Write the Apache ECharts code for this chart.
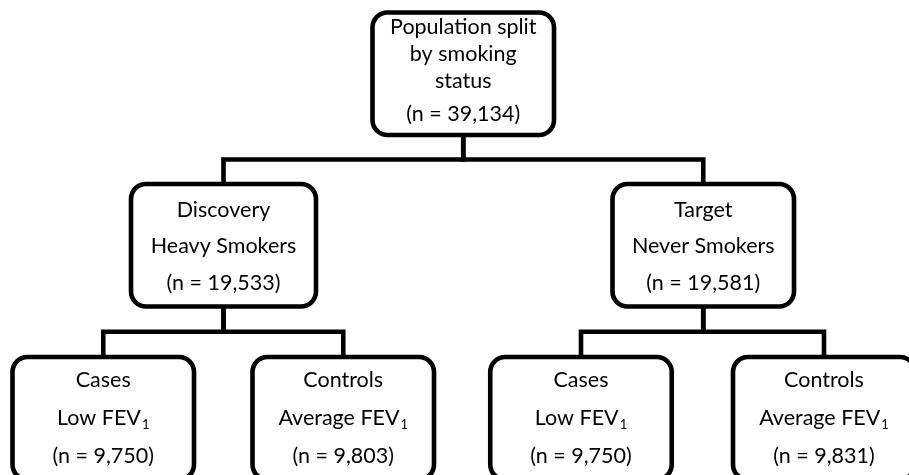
<!DOCTYPE html>
<html>
<head>
<meta charset="utf-8">
<script src="https://cdn.jsdelivr.net/npm/echarts@6/dist/echarts.min.js"></script>
<style>
html,body{margin:0;padding:0;background:#fff;}
#chart{width:909px;height:475px;}
</style>
</head>
<body>
<div id="chart"></div>
<script>
// ---- data ----
const nodeLines = [
  ['Population split', 'by smoking', 'status'],
  ['Discovery', 'Heavy Smokers'],
  ['Target', 'Never Smokers'],
  ['Cases', 'Low FEV{sub|1}'],
  ['Controls', 'Average FEV{sub|1}'],
  ['Cases', 'Low FEV{sub|1}'],
  ['Controls', 'Average FEV{sub|1}']
];
const nodeCounts = [39134, 19533, 19581, 9750, 9803, 9750, 9831];
const nodeParents = [-1, 0, 0, 1, 1, 2, 2];
const nodeLevels = [0, 1, 1, 2, 2, 2, 2];

// ---- layout (diagram units on hidden value axes) ----
const nodeCenterX = [463.25, 223.5, 703.25, 103.25, 343.25, 581, 824];
const nodeWidth = [181.5, 185, 181.5, 181.5, 181.5, 181.5, 182];
const levelTop = [12.5, 184, 357];
const boxHeight = 122.5;
const levelLineOffsets = [[15, 42, 69, 102], [26, 62.5, 99], [23.5, 61, 99]];

const FONT = 'Lato, "Noto Sans", sans-serif';
const FS = 21.5;
const LW = 4.6;

function fmtN(n) { return '(n = ' + n.toLocaleString('en-US') + ')'; }

const chart = echarts.init(document.getElementById('chart'), null, {renderer: 'canvas'});

const nodeData = nodeLines.map((_, i) => [i]);
const edgeData = nodeParents.map((p, i) => [i]).filter(d => nodeParents[d[0]] >= 0);

chart.setOption({
  animation: false,
  backgroundColor: '#ffffff',
  grid: {left: 0, right: 0, top: 0, bottom: 0},
  xAxis: {type: 'value', min: 0, max: 909, show: false},
  yAxis: {type: 'value', min: 0, max: 475, inverse: true, show: false},
  series: [
    {
      type: 'custom',
      coordinateSystem: 'cartesian2d',
      clip: false,
      z: 1,
      data: edgeData,
      renderItem: function (params, api) {
        const c = api.value(0);
        const p = nodeParents[c];
        const pb = levelTop[nodeLevels[p]] + boxHeight;
        const ct = levelTop[nodeLevels[c]];
        const midY = (pb + ct) / 2;
        const a = api.coord([nodeCenterX[p], pb]);
        const b = api.coord([nodeCenterX[p], midY]);
        const d = api.coord([nodeCenterX[c], midY]);
        const e = api.coord([nodeCenterX[c], ct]);
        return {
          type: 'polyline',
          shape: {points: [a, b, d, e]},
          style: {stroke: '#000', lineWidth: LW, fill: null, lineJoin: 'miter', lineCap: 'square'}
        };
      }
    },
    {
      type: 'custom',
      coordinateSystem: 'cartesian2d',
      clip: false,
      z: 2,
      data: nodeData,
      renderItem: function (params, api) {
        const i = api.value(0);
        const lvl = nodeLevels[i];
        const cx = nodeCenterX[i];
        const top = levelTop[lvl];
        const tl = api.coord([cx - nodeWidth[i] / 2, top]);
        const br = api.coord([cx + nodeWidth[i] / 2, top + boxHeight]);
        const children = [{
          type: 'rect',
          shape: {x: tl[0], y: tl[1], width: br[0] - tl[0], height: br[1] - tl[1], r: 15},
          style: {fill: '#fff', stroke: '#000', lineWidth: LW}
        }];
        const lines = nodeLines[i].concat([fmtN(nodeCounts[i])]);
        const offs = levelLineOffsets[lvl];
        lines.forEach((t, k) => {
          const pt = api.coord([cx, top + offs[k]]);
          children.push({
            type: 'text',
            x: pt[0], y: pt[1],
            style: {
              text: t,
              fill: '#000',
              fontFamily: FONT,
              fontSize: FS,
              lineHeight: 26,
              align: 'center',
              verticalAlign: 'middle',
              rich: {
                sub: {fontSize: 13, fontFamily: FONT, fill: '#000', verticalAlign: 'bottom', lineHeight: 12, padding: [0, 0, 0, 1]}
              }
            }
          });
        });
        return {type: 'group', children: children};
      }
    }
  ]
});
</script>
</body>
</html>
